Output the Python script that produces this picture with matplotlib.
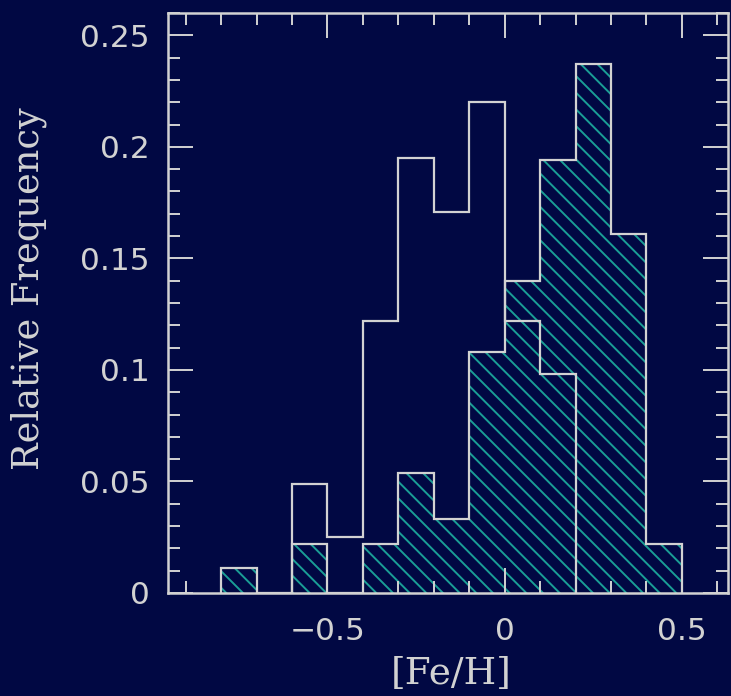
import numpy as np
import matplotlib
matplotlib.use('Agg')
import matplotlib.pyplot as plt
from matplotlib.ticker import MultipleLocator

# bin edges of [Fe/H] (0.1 dex bins)
edges = [-0.8, -0.7, -0.6, -0.5, -0.4, -0.3, -0.2, -0.1, 0.0, 0.1, 0.2, 0.3, 0.4, 0.5]
# hatched histogram (relative frequency)
hatched_vals = [0.011, 0.0, 0.022, 0.0, 0.022, 0.054, 0.033, 0.108, 0.140, 0.194, 0.237, 0.161, 0.022]
# open histogram, edges -0.6 .. 0.2
open_edges = [-0.6, -0.5, -0.4, -0.3, -0.2, -0.1, 0.0, 0.1, 0.2]
open_vals = [0.049, 0.025, 0.122, 0.195, 0.171, 0.220, 0.122, 0.098]

xtick_vals = [-0.5, 0.0, 0.5]
xtick_labels = ['\u22120.5', '0', '0.5']
ytick_vals = [0, 0.05, 0.1, 0.15, 0.2, 0.25]
ytick_labels = ['0', '0.05', '0.1', '0.15', '0.2', '0.25']

bg = '#010843'
fg = '#d2d2d2'
teal = '#1a9e96'

plt.rcParams['hatch.linewidth'] = 1.4

fig = plt.figure(figsize=(7.31, 6.96), dpi=100, facecolor=bg)
ax = fig.add_axes([168 / 731, 103 / 696, 560 / 731, 580 / 696])
ax.set_facecolor(bg)

# hatched fill, then the outlines on top
ax.stairs(hatched_vals, edges, fill=True, facecolor=bg, edgecolor=teal,
          hatch='\\\\', linewidth=0)
ax.stairs(hatched_vals, edges, color=fg, linewidth=1.6)
ax.stairs(open_vals, open_edges, color=fg, linewidth=1.6)

ax.set_xlim(-0.95, 0.63)
ax.set_ylim(0, 0.26)

ax.set_xticks(xtick_vals, xtick_labels)
ax.set_yticks(ytick_vals, ytick_labels)
ax.xaxis.set_minor_locator(MultipleLocator(0.1))
ax.yaxis.set_minor_locator(MultipleLocator(0.01))

ax.tick_params(which='both', direction='in', top=True, right=True, colors=fg,
               width=1.4)
ax.tick_params(which='major', length=18, labelsize=22.5)
ax.tick_params(which='minor', length=8.6)
ax.tick_params(axis='x', which='major', pad=17)
ax.tick_params(axis='y', which='major', pad=13)
for lab in ax.get_xticklabels() + ax.get_yticklabels():
    lab.set_color(fg)

for sp in ax.spines.values():
    sp.set_color(fg)
    sp.set_linewidth(1.8)

ax.set_xlabel('[Fe/H]', fontsize=27, color=fg, family='DejaVu Serif')
ax.set_ylabel('Relative Frequency', fontsize=26.5, color=fg, family='DejaVu Serif')
ax.xaxis.set_label_coords(0.505, -0.108)
ax.yaxis.set_label_coords(-0.216, 0.524)

fig.savefig('out.png', dpi=100, facecolor=bg)
